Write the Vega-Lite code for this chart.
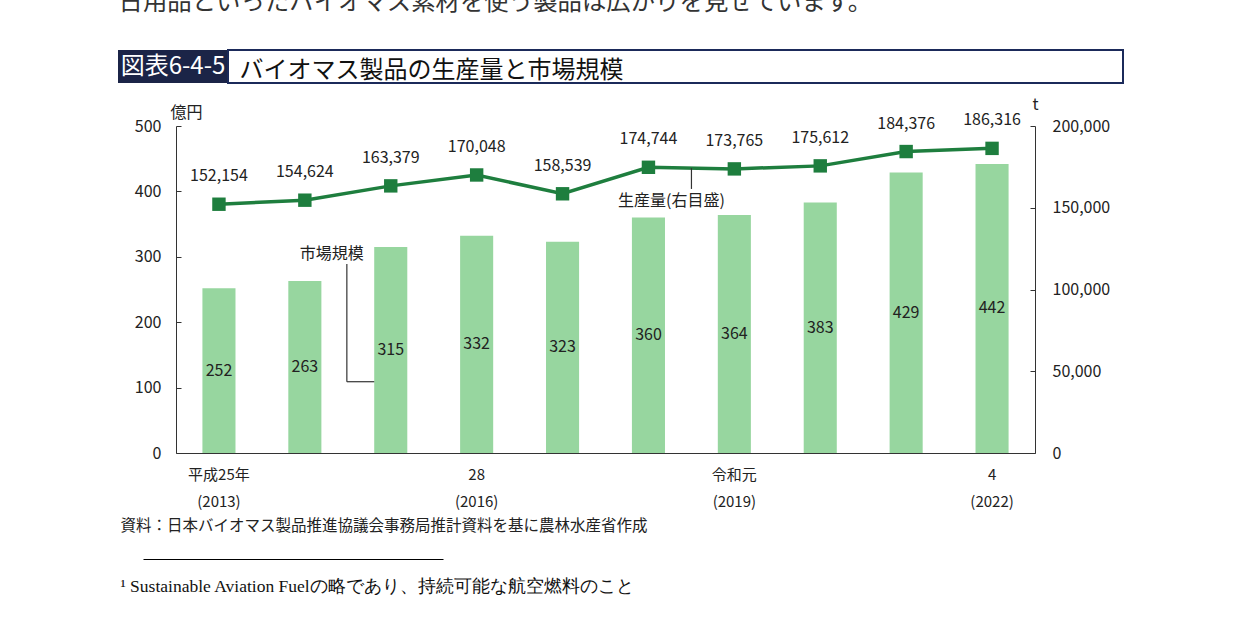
{
  "$schema": "https://vega.github.io/schema/vega-lite/v6.json",
  "description": "バイオマス製品の生産量と市場規模 (図表6-4-5)",
  "autosize": {"type": "pad"},
  "padding": {"left": 118, "top": -11, "right": 0, "bottom": 0},
  "background": "white",
  "datasets": {
    "biomass": [
      {"year": "2013", "market": 252, "production": 152154},
      {"year": "2014", "market": 263, "production": 154624},
      {"year": "2015", "market": 315, "production": 163379},
      {"year": "2016", "market": 332, "production": 170048},
      {"year": "2017", "market": 323, "production": 158539},
      {"year": "2018", "market": 360, "production": 174744},
      {"year": "2019", "market": 364, "production": 173765},
      {"year": "2020", "market": 383, "production": 175612},
      {"year": "2021", "market": 429, "production": 184376},
      {"year": "2022", "market": 442, "production": 186316}
    ],
    "marketNote": [{"year": "2014", "v": 304, "label": "市場規模"}],
    "marketLeader": [{"year": "2014", "top": 289, "bottom": 109}],
    "marketLeaderH": [{"year": "2014", "year2": "2015", "v": 109}],
    "prodNote": [{"year": "2018", "v": 154000, "label": "生産量(右目盛)"}],
    "prodLeader": [{"year": "2018", "top": 174254, "bottom": 161500}]
  },
  "config": {
    "font": "Noto Sans CJK JP",
    "view": {"stroke": null},
    "axis": {
      "labelFont": "Noto Sans CJK JP",
      "titleFont": "Noto Sans CJK JP",
      "labelFontSize": 16,
      "labelColor": "#222222",
      "titleColor": "#222222",
      "titleFontWeight": "normal",
      "domainColor": "#333333",
      "tickColor": "#333333",
      "grid": false
    },
    "text": {"font": "Noto Sans CJK JP", "fontSize": 16, "color": "#222222"}
  },
  "columns": 2,
  "bounds": "flush",
  "spacing": {"row": 43, "column": 0},
  "concat": [
    {
      "width": 110,
      "height": 33,
      "view": {"fill": "#1b2447", "stroke": null},
      "layer": [
        {
          "data": {"values": [{"label": "図表6-4-5"}]},
          "mark": {"type": "text", "color": "white", "fontSize": 24, "baseline": "middle"},
          "encoding": {"text": {"field": "label"}}
        },
        {
          "data": {"values": [{}]},
          "mark": {"type": "point", "opacity": 0, "size": 1},
          "encoding": {
            "x": {
              "datum": 0.5,
              "type": "quantitative",
              "scale": {"domain": [0, 1]},
              "axis": {
                "orient": "top",
                "domain": false,
                "ticks": false,
                "labels": false,
                "title": "日用品といったバイオマス素材を使う製品は広がりを見せています。",
                "titleX": 0,
                "titleY": -60,
                "titleAlign": "left",
                "titleAnchor": "start",
                "titleBaseline": "top",
                "titleFontSize": 24.4,
                "titleColor": "#333333"
              }
            }
          }
        }
      ]
    },
    {
      "width": 895,
      "height": 33,
      "view": {"stroke": "#1b2a5a", "strokeWidth": 2, "fill": null},
      "data": {"values": [{}]},
      "mark": {"type": "point", "opacity": 0, "size": 1},
      "encoding": {
        "x": {
          "datum": 0.5,
          "type": "quantitative",
          "scale": {"domain": [0, 1]},
          "axis": {
            "domain": false,
            "ticks": false,
            "labels": false,
            "title": "バイオマス製品の生産量と市場規模",
            "titleX": 11,
            "titleY": -6,
            "titleAlign": "left",
            "titleAnchor": "start",
            "titleBaseline": "alphabetic",
            "titleFontSize": 24,
            "titleColor": "#111111"
          }
        }
      }
    },
    {
      "width": 110,
      "height": 327,
      "data": {"values": []},
      "mark": "text",
      "encoding": {}
    },
    {
      "width": 807,
      "height": 327,
      "encoding": {
        "x": {
          "field": "year",
          "type": "nominal",
          "sort": null,
          "scale": {"range": [-52, 807], "paddingInner": 0.615, "paddingOuter": 0.3075},
          "axis": {
            "title": "資料：日本バイオマス製品推進協議会事務局推計資料を基に農林水産省作成",
            "titleX": -108,
            "titleY": 72,
            "titleAlign": "left",
            "titleAnchor": "start",
            "titleBaseline": "middle",
            "titleFontSize": 15.5,
            "labelExpr": "datum.value == '2013' ? ['平成25年', '(2013)'] : datum.value == '2016' ? ['28', '(2016)'] : datum.value == '2019' ? ['令和元', '(2019)'] : datum.value == '2022' ? ['4', '(2022)'] : ''",
            "labelAngle": 0,
            "labelFontSize": 15,
            "labelLineHeight": 27,
            "labelPadding": 14,
            "labelBaseline": "top",
            "labelOverlap": false,
            "ticks": false
          }
        }
      },
      "layer": [
        {
          "layer": [
            {
              "data": {"name": "biomass"},
              "mark": {"type": "bar", "color": "#97d69f"},
              "encoding": {
                "y": {
                  "field": "market",
                  "type": "quantitative",
                  "scale": {"domain": [0, 500]},
                  "axis": {
                    "offset": 52,
                    "title": "億円",
                    "titleAngle": 0,
                    "titleX": -6,
                    "titleY": -14,
                    "titleAlign": "left",
                    "titleBaseline": "middle",
                    "titleFontSize": 16,
                    "values": [0, 100, 200, 300, 400, 500],
                    "tickSize": -5,
                    "labelPadding": 20
                  }
                }
              }
            },
            {
              "data": {"name": "marketNote"},
              "mark": {"type": "text", "xOffset": 27, "baseline": "middle"},
              "encoding": {
                "y": {"field": "v", "type": "quantitative"},
                "text": {"field": "label"}
              }
            },
            {
              "data": {"name": "marketLeader"},
              "mark": {"type": "rule", "xOffset": 42, "color": "#333333", "strokeWidth": 1.2},
              "encoding": {
                "y": {"field": "top", "type": "quantitative"},
                "y2": {"field": "bottom"}
              }
            },
            {
              "data": {"name": "marketLeaderH"},
              "mark": {"type": "rule", "xOffset": 42, "x2Offset": -16.5, "color": "#333333", "strokeWidth": 1.2},
              "encoding": {
                "x2": {"field": "year2"},
                "y": {"field": "v", "type": "quantitative"}
              }
            }
          ]
        },
        {
          "data": {"name": "biomass"},
          "mark": {"type": "text", "baseline": "middle"},
          "encoding": {
            "y": {"field": "market", "type": "quantitative", "scale": {"domain": [0, 1000]}, "axis": null},
            "text": {"field": "market"}
          }
        },
        {
          "layer": [
            {
              "data": {"name": "biomass"},
              "mark": {"type": "line", "color": "#1e7e3e", "strokeWidth": 3.5},
              "encoding": {
                "y": {
                  "field": "production",
                  "type": "quantitative",
                  "scale": {"domain": [0, 200000]},
                  "axis": {
                    "orient": "right",
                    "title": "t",
                    "titleAngle": 0,
                    "titleX": 0,
                    "titleY": -22,
                    "titleAlign": "center",
                    "titleBaseline": "middle",
                    "titleFontSize": 16,
                    "values": [0, 50000, 100000, 150000, 200000],
                    "labelExpr": "format(datum.value, ',')",
                    "tickSize": -5,
                    "labelPadding": 22
                  }
                }
              }
            },
            {
              "data": {"name": "biomass"},
              "mark": {"type": "square", "color": "#1e7e3e", "size": 180, "opacity": 1, "filled": true},
              "encoding": {"y": {"field": "production", "type": "quantitative"}}
            },
            {
              "data": {"name": "biomass"},
              "mark": {"type": "text", "dy": -28, "baseline": "middle"},
              "encoding": {
                "y": {"field": "production", "type": "quantitative"},
                "text": {"field": "production", "format": ","}
              }
            },
            {
              "data": {"name": "prodNote"},
              "mark": {"type": "text", "xOffset": 23, "baseline": "middle"},
              "encoding": {
                "y": {"field": "v", "type": "quantitative"},
                "text": {"field": "label"}
              }
            },
            {
              "data": {"name": "prodLeader"},
              "mark": {"type": "rule", "xOffset": 43, "color": "#333333", "strokeWidth": 1.2},
              "encoding": {
                "y": {"field": "top", "type": "quantitative"},
                "y2": {"field": "bottom"}
              }
            }
          ]
        }
      ],
      "resolve": {"scale": {"y": "independent"}}
    },
    {
      "width": 110,
      "height": 63,
      "data": {"values": []},
      "mark": "text",
      "encoding": {}
    },
    {
      "width": 300,
      "height": 63,
      "data": {"values": [{}]},
      "mark": {"type": "point", "opacity": 0, "size": 1},
      "encoding": {
        "x": {
          "datum": 0.5,
          "type": "quantitative",
          "scale": {"domain": [0, 1], "range": [-85, 215]},
          "axis": {
            "domain": true,
            "domainColor": "#000000",
            "domainWidth": 1,
            "ticks": false,
            "labels": false,
            "title": "¹  Sustainable Aviation Fuelの略であり、持続可能な航空燃料のこと",
            "titleFont": "Liberation Serif",
            "titleFontSize": 17.5,
            "titleX": -108,
            "titleY": 27,
            "titleAlign": "left",
            "titleAnchor": "start",
            "titleBaseline": "middle",
            "titleColor": "#111111"
          }
        }
      }
    }
  ]
}
